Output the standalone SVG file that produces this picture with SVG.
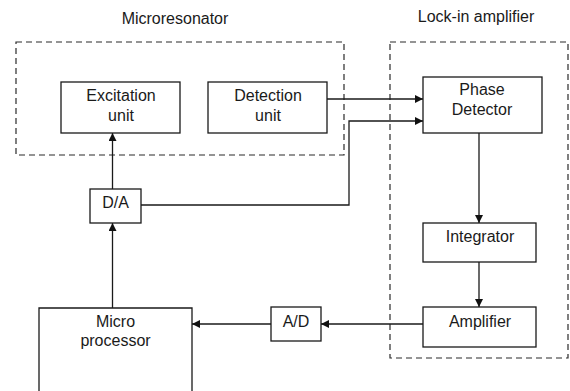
<svg xmlns="http://www.w3.org/2000/svg" width="570" height="391" viewBox="0 0 570 391">
  <style>
    .box { fill: #ffffff; stroke: #1a1a1a; stroke-width: 1.3; }
    .group { fill: none; stroke: #2a2a2a; stroke-width: 1.2; stroke-dasharray: 6 4; }
    .wire { fill: none; stroke: #1a1a1a; stroke-width: 1.3; }
    text { font-family: "Liberation Sans", Arial, sans-serif; font-size: 16px; fill: #1a1a1a; text-anchor: middle; }
  </style>
  <defs>
    <marker id="arrow" viewBox="0 0 10 10" refX="10" refY="5" markerWidth="8" markerHeight="8" markerUnits="userSpaceOnUse" orient="auto">
      <path d="M0,0 L10,5 L0,10 Z" fill="#111"/>
    </marker>
  </defs>
  <rect width="570" height="391" fill="#ffffff"/>

  <!-- enclosing groups -->
  <g id="microresonator">
    <rect class="group" x="16" y="42" width="328" height="113"/>
    <text x="175" y="24">Microresonator</text>
  </g>
  <g id="lockin">
    <rect class="group" x="390" y="42" width="178" height="316"/>
    <text x="476" y="22">Lock-in amplifier</text>
  </g>

  <!-- connectors -->
  <g id="connectors">
    <path class="wire" d="M327,99 H423" marker-end="url(#arrow)"/>
    <path class="wire" d="M141,205 H349 V121 H423" marker-end="url(#arrow)"/>
    <path class="wire" d="M112.5,189 V133" marker-end="url(#arrow)"/>
    <path class="wire" d="M112.5,308 V223" marker-end="url(#arrow)"/>
    <path class="wire" d="M479,133 V223" marker-end="url(#arrow)"/>
    <path class="wire" d="M479,262 V307" marker-end="url(#arrow)"/>
    <path class="wire" d="M423,324 H321" marker-end="url(#arrow)"/>
    <path class="wire" d="M271,324 H192" marker-end="url(#arrow)"/>
  </g>

  <!-- nodes -->
  <g id="excitation">
    <rect class="box" x="61" y="82" width="119" height="51"/>
    <text x="121" y="101">Excitation</text>
    <text x="121" y="121">unit</text>
  </g>
  <g id="detection">
    <rect class="box" x="208" y="82" width="119" height="51"/>
    <text x="268" y="101">Detection</text>
    <text x="268" y="121">unit</text>
  </g>
  <g id="phase-detector">
    <rect class="box" x="423" y="77" width="119" height="56"/>
    <text x="482" y="95">Phase</text>
    <text x="482" y="115">Detector</text>
  </g>
  <g id="integrator">
    <rect class="box" x="423" y="223" width="113" height="39"/>
    <text x="480" y="242">Integrator</text>
  </g>
  <g id="amplifier">
    <rect class="box" x="423" y="307" width="113" height="40"/>
    <text x="480" y="327">Amplifier</text>
  </g>
  <g id="da">
    <rect class="box" x="90" y="189" width="51" height="34"/>
    <text x="115.5" y="208">D/A</text>
  </g>
  <g id="ad">
    <rect class="box" x="271" y="307" width="50" height="34"/>
    <text x="296" y="327">A/D</text>
  </g>
  <g id="microprocessor">
    <path class="box" d="M39,395 V308 H192 V395"/>
    <text x="115.5" y="327">Micro</text>
    <text x="115.5" y="346">processor</text>
  </g>
</svg>
